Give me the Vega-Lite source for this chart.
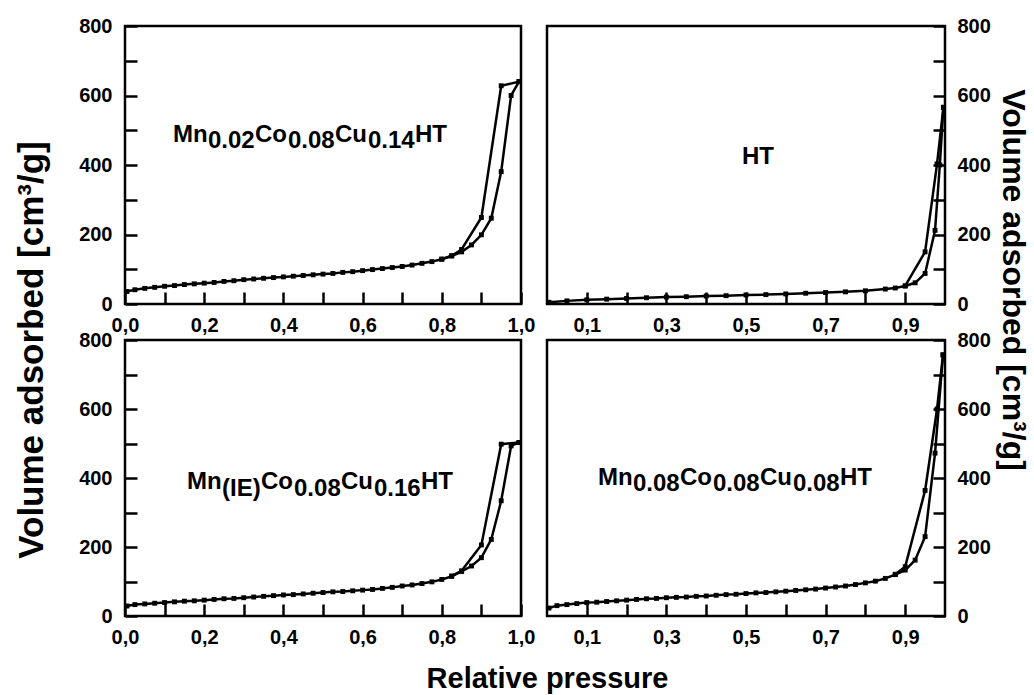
{
  "$schema": "https://vega.github.io/schema/vega-lite/v6.json",
  "background": "white",
  "padding": {"left": 13, "top": 14, "right": 0, "bottom": 0},
  "config": {
    "font": "Liberation Sans",
    "view": {"stroke": "black", "strokeWidth": 2.5},
    "axis": {
      "domain": false, "grid": false,
      "labelFont": "Liberation Sans", "labelFontWeight": "bold", "labelFontSize": 20, "labelColor": "black",
      "tickColor": "black", "tickWidth": 2.5, "tickSize": -12,
      "titleFont": "Liberation Sans", "titleFontWeight": "bold", "titleColor": "black",
      "labelFlush": false, "labelOverlap": false
    }
  },
  "datasets": {
    "tl": [
      {"p":0.005,"v":36,"branch":"ads"},{"p":0.025,"v":41,"branch":"ads"},{"p":0.05,"v":45,"branch":"ads"},{"p":0.075,"v":48,"branch":"ads"},{"p":0.1,"v":51,"branch":"ads"},{"p":0.125,"v":53,"branch":"ads"},{"p":0.15,"v":56,"branch":"ads"},{"p":0.175,"v":58,"branch":"ads"},{"p":0.2,"v":60,"branch":"ads"},{"p":0.225,"v":62,"branch":"ads"},{"p":0.25,"v":65,"branch":"ads"},{"p":0.275,"v":67,"branch":"ads"},{"p":0.3,"v":70,"branch":"ads"},{"p":0.325,"v":72,"branch":"ads"},{"p":0.35,"v":74,"branch":"ads"},{"p":0.375,"v":76,"branch":"ads"},{"p":0.4,"v":78,"branch":"ads"},{"p":0.425,"v":80,"branch":"ads"},{"p":0.45,"v":82,"branch":"ads"},{"p":0.475,"v":84,"branch":"ads"},{"p":0.5,"v":86,"branch":"ads"},{"p":0.525,"v":88,"branch":"ads"},{"p":0.55,"v":91,"branch":"ads"},{"p":0.575,"v":93,"branch":"ads"},{"p":0.6,"v":96,"branch":"ads"},{"p":0.625,"v":99,"branch":"ads"},{"p":0.65,"v":102,"branch":"ads"},{"p":0.675,"v":105,"branch":"ads"},{"p":0.7,"v":108,"branch":"ads"},{"p":0.725,"v":112,"branch":"ads"},{"p":0.75,"v":117,"branch":"ads"},{"p":0.775,"v":122,"branch":"ads"},{"p":0.8,"v":129,"branch":"ads"},{"p":0.825,"v":138,"branch":"ads"},{"p":0.85,"v":150,"branch":"ads"},{"p":0.875,"v":170,"branch":"ads"},{"p":0.9,"v":199,"branch":"ads"},{"p":0.925,"v":247,"branch":"ads"},{"p":0.95,"v":381,"branch":"ads"},{"p":0.975,"v":600,"branch":"ads"},{"p":0.995,"v":640,"branch":"ads"},
      {"p":0.995,"v":640,"branch":"des"},{"p":0.95,"v":628,"branch":"des"},{"p":0.9,"v":249,"branch":"des"},{"p":0.85,"v":157,"branch":"des"},{"p":0.825,"v":139,"branch":"des"},{"p":0.8,"v":129,"branch":"des"}
    ],
    "tl_t": [
      {"seg":"Mn","p":0.1212,"v":467},{"seg":"0.02","p":0.2096,"v":449},{"seg":"Co","p":0.3283,"v":467},{"seg":"0.08","p":0.4116,"v":449},{"seg":"Cu","p":0.5303,"v":467},{"seg":"0.14","p":0.6136,"v":449},{"seg":"HT","p":0.7323,"v":467}
    ],
    "tr": [
      {"p":0.005,"v":5,"branch":"ads"},{"p":0.05,"v":9,"branch":"ads"},{"p":0.1,"v":12,"branch":"ads"},{"p":0.15,"v":14,"branch":"ads"},{"p":0.2,"v":16,"branch":"ads"},{"p":0.25,"v":18,"branch":"ads"},{"p":0.3,"v":20,"branch":"ads"},{"p":0.35,"v":21,"branch":"ads"},{"p":0.4,"v":23,"branch":"ads"},{"p":0.45,"v":24,"branch":"ads"},{"p":0.5,"v":26,"branch":"ads"},{"p":0.55,"v":27,"branch":"ads"},{"p":0.6,"v":29,"branch":"ads"},{"p":0.65,"v":31,"branch":"ads"},{"p":0.7,"v":33,"branch":"ads"},{"p":0.75,"v":35,"branch":"ads"},{"p":0.8,"v":38,"branch":"ads"},{"p":0.85,"v":43,"branch":"ads"},{"p":0.875,"v":46,"branch":"ads"},{"p":0.9,"v":52,"branch":"ads"},{"p":0.925,"v":61,"branch":"ads"},{"p":0.95,"v":88,"branch":"ads"},{"p":0.975,"v":212,"branch":"ads"},{"p":0.987,"v":400,"branch":"ads"},{"p":0.996,"v":566,"branch":"ads"},
      {"p":0.996,"v":566,"branch":"des"},{"p":0.98,"v":403,"branch":"des"},{"p":0.95,"v":150,"branch":"des"},{"p":0.9,"v":52,"branch":"des"}
    ],
    "tr_t": [{"seg":"HT","p":0.49,"v":403}],
    "bl": [
      {"p":0.005,"v":29,"branch":"ads"},{"p":0.025,"v":33,"branch":"ads"},{"p":0.05,"v":35,"branch":"ads"},{"p":0.075,"v":37,"branch":"ads"},{"p":0.1,"v":39,"branch":"ads"},{"p":0.125,"v":41,"branch":"ads"},{"p":0.15,"v":43,"branch":"ads"},{"p":0.175,"v":44,"branch":"ads"},{"p":0.2,"v":46,"branch":"ads"},{"p":0.225,"v":48,"branch":"ads"},{"p":0.25,"v":50,"branch":"ads"},{"p":0.275,"v":51,"branch":"ads"},{"p":0.3,"v":53,"branch":"ads"},{"p":0.325,"v":55,"branch":"ads"},{"p":0.35,"v":57,"branch":"ads"},{"p":0.375,"v":59,"branch":"ads"},{"p":0.4,"v":61,"branch":"ads"},{"p":0.425,"v":62,"branch":"ads"},{"p":0.45,"v":64,"branch":"ads"},{"p":0.475,"v":66,"branch":"ads"},{"p":0.5,"v":68,"branch":"ads"},{"p":0.525,"v":70,"branch":"ads"},{"p":0.55,"v":71,"branch":"ads"},{"p":0.575,"v":73,"branch":"ads"},{"p":0.6,"v":75,"branch":"ads"},{"p":0.625,"v":77,"branch":"ads"},{"p":0.65,"v":80,"branch":"ads"},{"p":0.675,"v":83,"branch":"ads"},{"p":0.7,"v":87,"branch":"ads"},{"p":0.725,"v":90,"branch":"ads"},{"p":0.75,"v":94,"branch":"ads"},{"p":0.775,"v":99,"branch":"ads"},{"p":0.8,"v":106,"branch":"ads"},{"p":0.825,"v":115,"branch":"ads"},{"p":0.85,"v":129,"branch":"ads"},{"p":0.875,"v":145,"branch":"ads"},{"p":0.9,"v":169,"branch":"ads"},{"p":0.925,"v":222,"branch":"ads"},{"p":0.95,"v":334,"branch":"ads"},{"p":0.975,"v":493,"branch":"ads"},{"p":0.995,"v":503,"branch":"ads"},
      {"p":0.995,"v":503,"branch":"des"},{"p":0.95,"v":498,"branch":"des"},{"p":0.9,"v":206,"branch":"des"},{"p":0.85,"v":131,"branch":"des"},{"p":0.825,"v":116,"branch":"des"}
    ],
    "bl_t": [
      {"seg":"Mn","p":0.1566,"v":368},{"seg":"(IE)","p":0.2449,"v":347},{"seg":"Co","p":0.3434,"v":368},{"seg":"0.08","p":0.4268,"v":347},{"seg":"Cu","p":0.5455,"v":368},{"seg":"0.16","p":0.6288,"v":347},{"seg":"HT","p":0.7475,"v":368}
    ],
    "br": [
      {"p":0.005,"v":23,"branch":"ads"},{"p":0.025,"v":30,"branch":"ads"},{"p":0.05,"v":33,"branch":"ads"},{"p":0.075,"v":36,"branch":"ads"},{"p":0.1,"v":39,"branch":"ads"},{"p":0.125,"v":40,"branch":"ads"},{"p":0.15,"v":42,"branch":"ads"},{"p":0.175,"v":44,"branch":"ads"},{"p":0.2,"v":46,"branch":"ads"},{"p":0.225,"v":48,"branch":"ads"},{"p":0.25,"v":50,"branch":"ads"},{"p":0.275,"v":51,"branch":"ads"},{"p":0.3,"v":53,"branch":"ads"},{"p":0.325,"v":54,"branch":"ads"},{"p":0.35,"v":55,"branch":"ads"},{"p":0.375,"v":57,"branch":"ads"},{"p":0.4,"v":58,"branch":"ads"},{"p":0.425,"v":60,"branch":"ads"},{"p":0.45,"v":62,"branch":"ads"},{"p":0.475,"v":63,"branch":"ads"},{"p":0.5,"v":65,"branch":"ads"},{"p":0.525,"v":67,"branch":"ads"},{"p":0.55,"v":68,"branch":"ads"},{"p":0.575,"v":70,"branch":"ads"},{"p":0.6,"v":72,"branch":"ads"},{"p":0.625,"v":74,"branch":"ads"},{"p":0.65,"v":76,"branch":"ads"},{"p":0.675,"v":78,"branch":"ads"},{"p":0.7,"v":81,"branch":"ads"},{"p":0.725,"v":84,"branch":"ads"},{"p":0.75,"v":87,"branch":"ads"},{"p":0.775,"v":91,"branch":"ads"},{"p":0.8,"v":96,"branch":"ads"},{"p":0.825,"v":101,"branch":"ads"},{"p":0.85,"v":109,"branch":"ads"},{"p":0.875,"v":120,"branch":"ads"},{"p":0.9,"v":133,"branch":"ads"},{"p":0.925,"v":162,"branch":"ads"},{"p":0.95,"v":230,"branch":"ads"},{"p":0.975,"v":472,"branch":"ads"},{"p":0.995,"v":757,"branch":"ads"},
      {"p":0.995,"v":757,"branch":"des"},{"p":0.98,"v":600,"branch":"des"},{"p":0.95,"v":364,"branch":"des"},{"p":0.9,"v":143,"branch":"des"},{"p":0.875,"v":121,"branch":"des"}
    ],
    "br_t": [
      {"seg":"Mn","p":0.1281,"v":381},{"seg":"0.08","p":0.2161,"v":362},{"seg":"Co","p":0.3342,"v":381},{"seg":"0.08","p":0.4171,"v":362},{"seg":"Cu","p":0.5352,"v":381},{"seg":"0.08","p":0.6181,"v":362},{"seg":"HT","p":0.7362,"v":381}
    ]
  },
  "columns": 2,
  "bounds": "flush",
  "spacing": {"row": 36, "column": 26},
  "concat": [
    {
      "width": 396, "height": 278,
      "encoding": {
        "x": {"field": "p", "type": "quantitative", "scale": {"domain": [0, 1], "nice": false, "zero": false},
          "axis": {"title": null, "values": [0,0.1,0.2,0.3,0.4,0.5,0.6,0.7,0.8,0.9,1],
            "labelExpr": "round(datum.value*10)%2==0 ? replace(format(datum.value,'.1f'),'.',',') : ''",
            "labelPadding": 23,
            "encode": {"ticks": {"update": {"y2": {"signal": "round(datum.value*10)%2==0 ? -12 : -7"}}}}}},
        "y": {"field": "v", "type": "quantitative", "scale": {"domain": [0, 800], "nice": false},
          "axis": {"values": [0,100,200,300,400,500,600,700,800],
            "labelExpr": "datum.value%200==0 ? datum.label : ''",
            "labelPadding": 25,
            "encode": {"ticks": {"update": {"x2": {"signal": "datum.value%200==0 ? 12 : 7"}}}},
            "title": "Volume adsorbed [cm³/g]", "titleFontSize": 35, "titleX": -93.5, "titleY": 323.5,
            "titleAngle": 270, "titleAlign": "center", "titleBaseline": "middle"}}
      },
      "layer": [
        {"data": {"name": "tl"},
         "mark": {"type": "line", "color": "black", "strokeWidth": 2.5, "point": {"shape": "square", "size": 24, "filled": true, "color": "black"}},
         "encoding": {"detail": {"field": "branch"}}},
        {"data": {"name": "tl_t"},
         "mark": {"type": "text", "align": "left", "baseline": "alphabetic", "fontSize": 24, "fontWeight": "bold", "font": "Liberation Sans", "color": "black"},
         "encoding": {"text": {"field": "seg"}}}
      ]
    },
    {
      "width": 398, "height": 278,
      "encoding": {
        "x": {"field": "p", "type": "quantitative", "scale": {"domain": [0, 1], "nice": false, "zero": false},
          "axis": {"title": null, "values": [0.1,0.2,0.3,0.4,0.5,0.6,0.7,0.8,0.9],
            "labelExpr": "round(datum.value*10)%2==1 ? replace(format(datum.value,'.1f'),'.',',') : ''",
            "labelPadding": 23,
            "encode": {"ticks": {"update": {"y2": {"signal": "round(datum.value*10)%2==1 ? -12 : -7"}}}}}},
        "y": {"field": "v", "type": "quantitative", "scale": {"domain": [0, 800], "nice": false},
          "axis": {"orient": "right", "values": [0,100,200,300,400,500,600,700,800],
            "labelExpr": "datum.value%200==0 ? datum.label : ''",
            "labelPadding": 24,
            "encode": {"ticks": {"update": {"x2": {"signal": "datum.value%200==0 ? -12 : -7"}}}},
            "title": "Volume adsorbed [cm³/g]", "titleFontSize": 32, "titleX": 67, "titleY": 253.5,
            "titleAngle": 90, "titleAlign": "center", "titleBaseline": "middle"}}
      },
      "layer": [
        {"data": {"name": "tr"},
         "mark": {"type": "line", "color": "black", "strokeWidth": 2.5, "point": {"shape": "square", "size": 24, "filled": true, "color": "black"}},
         "encoding": {"detail": {"field": "branch"}}},
        {"data": {"name": "tr_t"},
         "mark": {"type": "text", "align": "left", "baseline": "alphabetic", "fontSize": 24, "fontWeight": "bold", "font": "Liberation Sans", "color": "black"},
         "encoding": {"text": {"field": "seg"}}}
      ]
    },
    {
      "width": 396, "height": 276,
      "encoding": {
        "x": {"field": "p", "type": "quantitative", "scale": {"domain": [0, 1], "nice": false, "zero": false},
          "axis": {"values": [0,0.1,0.2,0.3,0.4,0.5,0.6,0.7,0.8,0.9,1],
            "labelExpr": "round(datum.value*10)%2==0 ? replace(format(datum.value,'.1f'),'.',',') : ''",
            "labelPadding": 23,
            "encode": {"ticks": {"update": {"y2": {"signal": "round(datum.value*10)%2==0 ? -12 : -7"}}}},
            "title": "Relative pressure", "titleFontSize": 29, "titleX": 422, "titleY": 71,
            "titleAlign": "center", "titleBaseline": "alphabetic", "titleAngle": 0}},
        "y": {"field": "v", "type": "quantitative", "scale": {"domain": [0, 800], "nice": false},
          "axis": {"title": null, "values": [0,100,200,300,400,500,600,700,800],
            "labelExpr": "datum.value%200==0 ? datum.label : ''",
            "labelPadding": 25,
            "encode": {"ticks": {"update": {"x2": {"signal": "datum.value%200==0 ? 12 : 7"}}}}}}
      },
      "layer": [
        {"data": {"name": "bl"},
         "mark": {"type": "line", "color": "black", "strokeWidth": 2.5, "point": {"shape": "square", "size": 24, "filled": true, "color": "black"}},
         "encoding": {"detail": {"field": "branch"}}},
        {"data": {"name": "bl_t"},
         "mark": {"type": "text", "align": "left", "baseline": "alphabetic", "fontSize": 24, "fontWeight": "bold", "font": "Liberation Sans", "color": "black"},
         "encoding": {"text": {"field": "seg"}}}
      ]
    },
    {
      "width": 398, "height": 276,
      "encoding": {
        "x": {"field": "p", "type": "quantitative", "scale": {"domain": [0, 1], "nice": false, "zero": false},
          "axis": {"title": null, "values": [0.1,0.2,0.3,0.4,0.5,0.6,0.7,0.8,0.9],
            "labelExpr": "round(datum.value*10)%2==1 ? replace(format(datum.value,'.1f'),'.',',') : ''",
            "labelPadding": 23,
            "encode": {"ticks": {"update": {"y2": {"signal": "round(datum.value*10)%2==1 ? -12 : -7"}}}}}},
        "y": {"field": "v", "type": "quantitative", "scale": {"domain": [0, 800], "nice": false},
          "axis": {"orient": "right", "title": null, "values": [0,100,200,300,400,500,600,700,800],
            "labelExpr": "datum.value%200==0 ? datum.label : ''",
            "labelPadding": 24,
            "encode": {"ticks": {"update": {"x2": {"signal": "datum.value%200==0 ? -12 : -7"}}}}}}
      },
      "layer": [
        {"data": {"name": "br"},
         "mark": {"type": "line", "color": "black", "strokeWidth": 2.5, "point": {"shape": "square", "size": 24, "filled": true, "color": "black"}},
         "encoding": {"detail": {"field": "branch"}}},
        {"data": {"name": "br_t"},
         "mark": {"type": "text", "align": "left", "baseline": "alphabetic", "fontSize": 24, "fontWeight": "bold", "font": "Liberation Sans", "color": "black"},
         "encoding": {"text": {"field": "seg"}}}
      ]
    }
  ]
}
